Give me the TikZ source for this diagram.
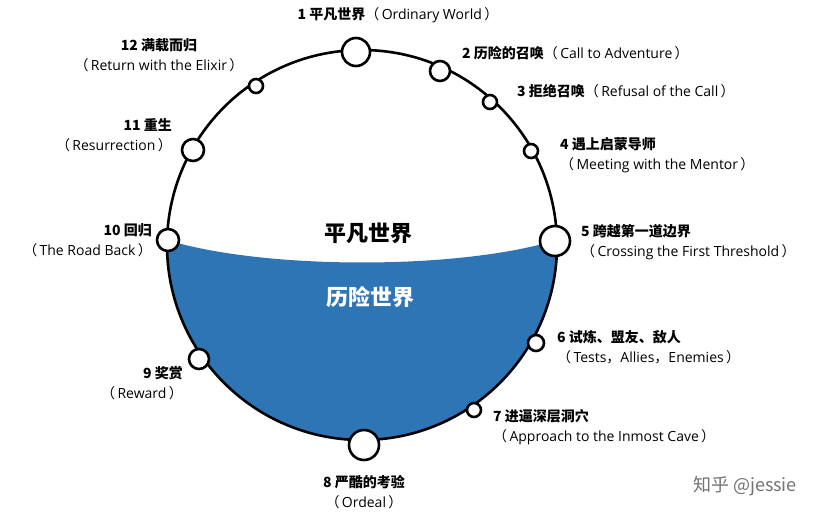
\documentclass[tikz,border=0pt]{standalone}
\usepackage{fontspec}
\setmainfont{Noto Sans CJK SC}
\newfontfamily\enf{Open Sans}
\tikzset{
 stage/.style={circle,draw=black,line width=2.6pt,fill=white,inner sep=0pt},
 lbl/.style={font=\fontsize{14}{20}\selectfont,inner sep=0pt},
}
\newcommand{\hd}[1]{\textbf{#1}}
\newcommand{\en}[1]{（{\enf\,#1\,}）}
\begin{document}
\begin{tikzpicture}[x=1pt,y=-1pt]
\useasboundingbox (0,0) rectangle (837,523);
\fill[white] (0,0) rectangle (837,523);
\coordinate (c) at (362,245);
\fill[fill={rgb,255:red,46;green,117;blue,182}] (c) ++(181.5:195) arc[start angle=181.5,end angle=-1.5,radius=195]
  .. controls (460,270) and (265,270) .. (167,240) -- cycle;
\draw[line width=2.6pt] (c) circle[radius=195];
\node[font=\fontsize{22}{24}\selectfont\bfseries] (t1) at (368,233) {平凡世界};
\node[font=\fontsize{22}{24}\selectfont\bfseries,text=white] (t2) at (370,297) {历险世界};
\node[stage,minimum size=28pt] (s1) at (356,52) {};
\node[stage,minimum size=20pt] (s2) at (440,71) {};
\node[stage,minimum size=14pt] (s3) at (490,102) {};
\node[stage,minimum size=14pt] (s4) at (531,151) {};
\node[stage,minimum size=30pt] (s5) at (555,241) {};
\node[stage,minimum size=16pt] (s6) at (536,343) {};
\node[stage,minimum size=14pt] (s7) at (474,410) {};
\node[stage,minimum size=30pt] (s8) at (364,445) {};
\node[stage,minimum size=20pt] (s9) at (199,359) {};
\node[stage,minimum size=22pt] (s10) at (168,240) {};
\node[stage,minimum size=22pt] (s11) at (193,150) {};
\node[stage,minimum size=14pt] (s12) at (256,86) {};
\node[lbl] (l1) at (398,15) {\hd{1 平凡世界}\en{Ordinary World}};
\node[lbl,anchor=west] (l2) at (462,53) {\hd{2 历险的召唤}\en{Call to Adventure}};
\node[lbl,anchor=west] (l3) at (517,91) {\hd{3 拒绝召唤}\en{Refusal of the Call}};
\node[lbl,anchor=north west,align=left] (l4) at (560,137) {\hd{4 遇上启蒙导师}\\\en{Meeting with the Mentor}};
\node[lbl,anchor=north west,align=left] (l5) at (581,224) {\hd{5 跨越第一道边界}\\\en{Crossing the First Threshold}};
\node[lbl,anchor=north west,align=left] (l6) at (557,330) {\hd{6 试炼、盟友、敌人}\\（{\enf\,Tests}，{\enf Allies}，{\enf Enemies\,}）};
\node[lbl,anchor=north west,align=left] (l7) at (493,409) {\hd{7 进逼深层洞穴}\\\en{Approach to the Inmost Cave}};
\node[lbl,anchor=north,align=center] (l8) at (364,475) {\hd{8 严酷的考验}\\\en{Ordeal}};
\node[lbl,anchor=north east,align=right] (l9) at (183,366) {\hd{9 奖赏}\\\en{Reward}};
\node[lbl,anchor=north east,align=right] (l10) at (152,223) {\hd{10 回归}\\\en{The Road Back}};
\node[lbl,anchor=north east,align=right] (l11) at (172,118) {\hd{11 重生}\\\en{Resurrection}};
\node[lbl,anchor=north,align=center] (l12) at (159,38) {\hd{12 满载而归}\\\en{Return with the Elixir}};
\node[font=\fontsize{18}{20}\selectfont,text=black!55] (wm) at (745,486) {知乎 @jessie};
\end{tikzpicture}
\end{document}
